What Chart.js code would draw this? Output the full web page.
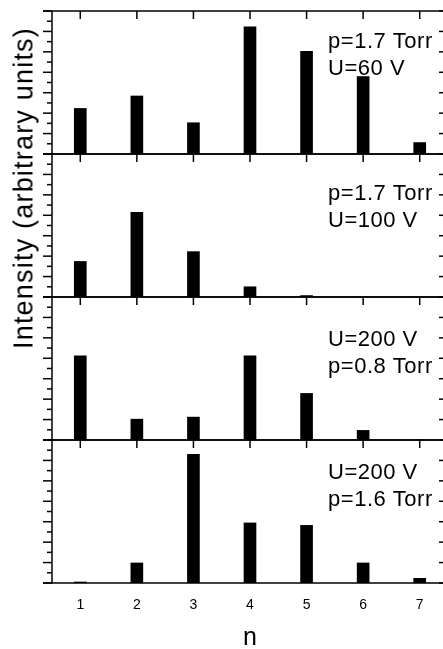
<!DOCTYPE html>
<html>
<head>
<meta charset="utf-8">
<script src="https://cdn.jsdelivr.net/npm/chart.js@4.4.1/dist/chart.umd.min.js"></script>
<style>
  html, body { margin: 0; padding: 0; background: #fff; overflow: hidden; }
  #wrap { position: relative; width: 443px; height: 649px; overflow: hidden; }
  #pulseChart { position: absolute; left: 0; top: 0; }
  #ytitle {
    position: absolute; left: 24px; top: 188px;
    transform: translate(-50%, -50%) rotate(-90deg);
    font: 27px "Liberation Sans", Arial, sans-serif; line-height: 1;
    letter-spacing: 1.2px;
    white-space: nowrap; color: #000;
  }
</style>
</head>
<body>
<div id="wrap">
  <canvas id="pulseChart" width="452" height="649"></canvas>
  <div id="ytitle">Intensity (arbitrary units)</div>
</div>
<script>
// n = pulse number, one small bar per n in each panel
var nValues = [1, 2, 3, 4, 5, 6, 7];
var intensity60V = [2.23, 2.84, 1.53, 6.22, 5.02, 3.79, 0.56];
var intensity100V = [1.74, 4.14, 2.22, 0.50, 0.07, 0, 0];
var intensity200V08 = [4.12, 1.02, 1.12, 4.12, 2.28, 0.47, 0];
var intensity200V16 = [0.05, 0.98, 6.30, 2.94, 2.82, 0.98, 0.23];

var notes60V = ['p=1.7 Torr', 'U=60 V'];
var notes100V = ['p=1.7 Torr', 'U=100 V'];
var notes200V08 = ['U=200 V', 'p=0.8 Torr'];
var notes200V16 = ['U=200 V', 'p=1.6 Torr'];

var yMax = 7;

var fontFam = '"Liberation Sans", Arial, sans-serif';

// top to bottom
var panels = [
  { id: 'y60', values: intensity60V, notes: notes60V, noteTop: 37 },
  { id: 'y100', values: intensity100V, notes: notes100V, noteTop: 46 },
  { id: 'y200a', values: intensity200V08, notes: notes200V08, noteTop: 49 },
  { id: 'y200b', values: intensity200V16, notes: notes200V16, noteTop: 39 }
];

function toPoints(values) {
  return nValues.map(function (n, i) { return { x: n, y: values[i] }; });
}

var datasets = panels.map(function (p) {
  return {
    data: toPoints(p.values),
    yAxisID: p.id,
    backgroundColor: '#000',
    borderWidth: 0,
    barThickness: 12,
    grouped: false
  };
});

var scales = {
  x: {
    type: 'linear', position: 'bottom', min: 0.5, max: 7.5, offset: false,
    grid: { display: false }, border: { display: false },
    afterBuildTicks: function (s) { s.ticks = nValues.map(function (v) { return { value: v }; }); },
    ticks: { color: '#000', padding: 6, autoSkip: false, maxRotation: 0,
      font: { family: fontFam, size: 14 } },
    title: { display: true, text: 'n', color: '#000', padding: { top: 0, bottom: -2 },
      font: { family: fontFam, size: 25, lineHeight: 1 } },
    afterFit: function (s) { s.height = 66; }
  }
};
// stacked y axes, last defined ends up on top
panels.slice().reverse().forEach(function (p) {
  scales[p.id] = {
    type: 'linear', position: 'left', stack: 'panels', stackWeight: 1,
    min: 0, max: yMax, offset: false,
    grid: { display: false }, border: { display: false },
    ticks: { display: false, stepSize: 1 },
    afterFit: function (s) { s.width = 52; }
  };
});

function line(ctx, x1, y1, x2, y2) {
  ctx.beginPath();
  ctx.moveTo(x1, y1);
  ctx.lineTo(x2, y2);
  ctx.stroke();
}

// frame, tick marks and labels of each panel
var panelFrame = {
  id: 'panelFrame',
  afterDatasetsDraw: function (chart) {
    var ctx = chart.ctx;
    var area = chart.chartArea;
    var xs = chart.scales.x;
    ctx.save();
    ctx.strokeStyle = '#000';
    ctx.lineWidth = 1.5;
    line(ctx, area.left, area.top, area.left, area.bottom);
    line(ctx, area.right, area.top, area.right, area.bottom);
    panels.forEach(function (p) {
      var ys = chart.scales[p.id];
      line(ctx, area.left - 9, ys.top, area.right, ys.top);
      line(ctx, area.left - 9, ys.bottom, area.right, ys.bottom);
      for (var v = 0; v <= yMax; v += 0.5) {
        var py = ys.getPixelForValue(v);
        var len = (v % 1 === 0) ? 9 : 5;
        line(ctx, area.left - len, py, area.left, py);
        line(ctx, area.right - len, py, area.right, py);
      }
      nValues.forEach(function (n) {
        var px = xs.getPixelForValue(n);
        line(ctx, px, ys.top, px, ys.top + 8);
      });
      ctx.fillStyle = '#000';
      ctx.font = '22px ' + fontFam;
      ctx.letterSpacing = '0.5px';
      ctx.textBaseline = 'alphabetic';
      ctx.textAlign = 'left';
      p.notes.forEach(function (t, k) {
        ctx.fillText(t, xs.getPixelForValue(5.38), ys.top + p.noteTop + k * 27);
      });
    });
    ctx.restore();
  }
};

var pulseCtx = document.getElementById('pulseChart').getContext('2d');
var pulseChart = new Chart(pulseCtx, {
  type: 'bar',
  data: { datasets: datasets },
  options: {
    responsive: false,
    animation: false,
    layout: { padding: { top: 11, right: 4, left: 0, bottom: 0 } },
    plugins: { legend: { display: false }, tooltip: { enabled: false } },
    scales: scales
  },
  plugins: [panelFrame]
});
</script>
</body>
</html>
